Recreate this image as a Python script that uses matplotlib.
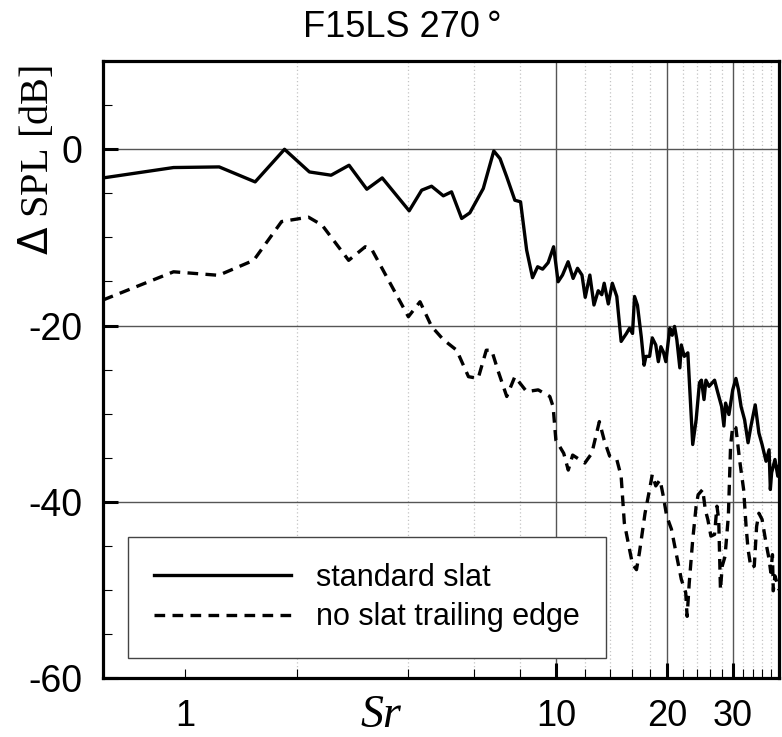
import numpy as np
import matplotlib
matplotlib.use("Agg")
import matplotlib.pyplot as plt
from matplotlib.ticker import FixedLocator, FuncFormatter

# standard slat
sr_std = [0.6, 0.93, 1.235, 1.544, 1.853, 2.163, 2.475, 2.767, 3.09, 3.40,
          4.02, 4.345, 4.62, 4.97, 5.23, 5.57, 5.86, 6.37, 6.80, 7.07,
          7.37, 7.75, 8.03, 8.34, 8.65, 8.93, 9.21, 9.53, 9.86, 10.14,
          10.42, 10.79, 11.13, 11.44, 11.76, 12.0, 12.35, 12.67, 13.01, 13.3,
          13.5, 13.85, 14.2, 14.6, 15.0, 15.5, 15.8, 16.1, 16.3, 16.6,
          17.0, 17.3, 17.5, 17.9, 18.2, 18.6, 18.9, 19.2, 19.5, 19.8,
          20.3, 20.6, 20.9, 21.2, 21.6, 21.8, 22.2, 22.7, 23.4, 23.9,
          24.4, 24.7, 25.1, 25.4, 25.9, 26.8, 27.3, 28.0, 28.4, 28.7,
          29.3, 30.0, 30.6, 31.1, 31.6, 32.3, 33.0, 33.6, 34.5, 35.3,
          36.0, 36.9, 37.6, 37.9, 38.2, 39.0, 39.7, 40.0]
dspl_std = [-3.25, -2.07, -2.0, -3.7, 0.0, -2.57, -2.94, -1.81, -4.53, -3.25,
            -6.98, -4.64, -4.19, -5.28, -4.83, -7.85, -7.21, -4.45, -0.19, -1.06,
            -3.13, -5.78, -5.96, -11.44, -14.57, -13.33, -13.6, -12.87, -11.06, -15.03,
            -14.27, -12.76, -14.65, -13.5, -14.27, -16.8, -14.27, -17.67, -16.05, -16.5,
            -15.2, -17.55, -15.2, -16.7, -21.8, -20.9, -20.3, -20.9, -16.7, -17.7,
            -21.3, -24.5, -23.5, -23.5, -21.4, -22.2, -24.1, -22.4, -23.0, -24.1,
            -20.3, -21.1, -20.1, -21.6, -24.8, -22.2, -23.5, -23.1, -33.5, -30.7,
            -26.5, -26.2, -28.4, -26.2, -26.9, -26.2, -27.5, -29.2, -31.4, -28.8,
            -30.1, -27.3, -26.0, -27.3, -29.2, -30.7, -33.3, -31.4, -29.0, -32.2,
            -33.5, -35.4, -34.1, -38.6, -36.7, -35.2, -37.1, -36.0]

# no slat trailing edge
sr_note = [0.6, 0.93, 1.23, 1.53, 1.82, 2.15, 2.34, 2.76, 3.06, 3.19,
           4.0, 4.3, 4.62, 4.97, 5.4, 5.81, 6.17, 6.49, 6.71, 6.99,
           7.37, 7.75, 8.34, 8.96, 9.63, 9.83, 10.0, 10.5, 10.8, 11.1,
           11.97, 12.5, 13.1, 13.5, 13.96, 14.6, 15.0, 15.3, 15.8, 16.1,
           16.5, 16.8, 17.4, 17.9, 18.2, 18.6, 19.1, 19.5, 19.9, 20.5,
           21.1, 21.8, 22.4, 22.6, 22.9, 23.4, 23.9, 24.2, 24.9, 25.3,
           25.7, 26.2, 26.8, 27.2, 27.5, 27.8, 28.1, 28.6, 29.2, 29.6,
           30.0, 30.6, 31.3, 32.1, 32.6, 33.0, 33.6, 34.3, 34.8, 35.3,
           36.0, 36.9, 37.6, 38.0, 38.4, 38.6, 39.0, 40.0]
dspl_note = [-17.1, -13.9, -14.3, -12.6, -8.2, -7.7, -8.6, -12.6, -11.06, -11.4,
             -19.0, -17.3, -20.1, -21.6, -22.8, -25.8, -26.0, -22.8, -22.8, -25.2,
             -28.05, -25.8, -27.5, -27.3, -28.05, -29.2, -33.0, -34.5, -36.4, -34.7,
             -35.6, -34.5, -30.9, -33.0, -34.8, -35.2, -37.1, -42.4, -45.4, -47.1,
             -47.7, -45.8, -41.3, -38.6, -36.9, -38.2, -37.5, -39.4, -41.6, -43.1,
             -45.8, -48.8, -50.3, -53.0, -49.2, -44.3, -40.5, -39.2, -38.6, -40.9,
             -42.0, -43.9, -43.7, -40.5, -42.0, -50.0, -47.3, -46.2, -41.6, -33.7,
             -31.4, -31.6, -35.2, -38.6, -42.8, -45.4, -47.5, -47.3, -42.8, -41.3,
             -42.0, -44.7, -46.5, -48.0, -46.0, -50.1, -48.4, -50.0]

x_major = [10, 20, 30]
x_minor = [1, 2, 4, 6, 8, 12, 14, 16, 18, 22, 24, 26, 28, 32, 34, 36, 38]
y_major = [-60, -40, -20, 0]
y_minor = [-55, -50, -45, -35, -30, -25, -15, -10, -5, 5]

plt.rcParams['font.family'] = ['Liberation Sans', 'DejaVu Sans']
plt.rcParams['axes.unicode_minus'] = False

fig = plt.figure(figsize=(7.82, 7.37), dpi=100)
ax = fig.add_axes([0.1317, 0.080, 0.8645, 0.837])

ax.set_xscale('log')
ax.set_xlim(0.6, 40)
ax.set_ylim(-60, 10)

# grid lines drawn by hand (no line at Sr = 1)
for v in x_minor[1:]:
    ax.axvline(v, color='#c4c4c4', ls=(0, (1, 2)), lw=0.9, zorder=1)
for v in x_major:
    ax.axvline(v, color='#555555', lw=1.0, zorder=1)
for v in y_major[1:]:
    ax.axhline(v, color='#555555', lw=1.0, zorder=1)

ax.plot(sr_std, dspl_std, color='black', lw=2.4, label='standard slat', zorder=3)
ax.plot(sr_note, dspl_note, color='black', lw=2.4, ls=(0, (3.2, 2.2)),
        label='no slat trailing edge', zorder=3)

ax.xaxis.set_major_locator(FixedLocator(x_major))
ax.xaxis.set_minor_locator(FixedLocator(x_minor))
ax.xaxis.set_major_formatter(FuncFormatter(lambda v, p: '%d' % v))
ax.xaxis.set_minor_formatter(FuncFormatter(lambda v, p: '1' if abs(v - 1) < 1e-6 else ''))
ax.yaxis.set_major_locator(FixedLocator(y_major))
ax.yaxis.set_minor_locator(FixedLocator(y_minor))

ax.tick_params(which='both', direction='in', top=False, right=False, labelsize=27)
ax.tick_params(axis='x', which='both', pad=15, labelsize=26)
ax.tick_params(axis='y', which='both', pad=15)
ax.tick_params(which='major', length=11, width=2.2)
ax.tick_params(which='minor', length=6.5, width=0.8)

for s in ax.spines.values():
    s.set_linewidth(2.3)

ax.set_ylabel(r'$\Delta$ SPL [dB]', fontsize=29, family='Liberation Serif')
ax.yaxis.set_label_coords(-0.068, 0.84)
ax.set_xlabel('Sr', fontsize=33, family='Liberation Serif', style='italic')
ax.xaxis.set_label_coords(0.411, -0.027)

fig.text(0.514, 1 - 37 / 737, 'F15LS 270\u2009\u00b0', ha='center', va='baseline', fontsize=26)

leg = ax.legend(loc='lower left', bbox_to_anchor=(0.037, 0.032), fontsize=22,
                handlelength=4.5, handletextpad=0.8, borderpad=0.85, labelspacing=0.3,
                fancybox=False, framealpha=1, borderaxespad=0)
leg.get_frame().set_edgecolor('#444444')
leg.get_frame().set_linewidth(1.0)

fig.savefig('out.png', dpi=100)
